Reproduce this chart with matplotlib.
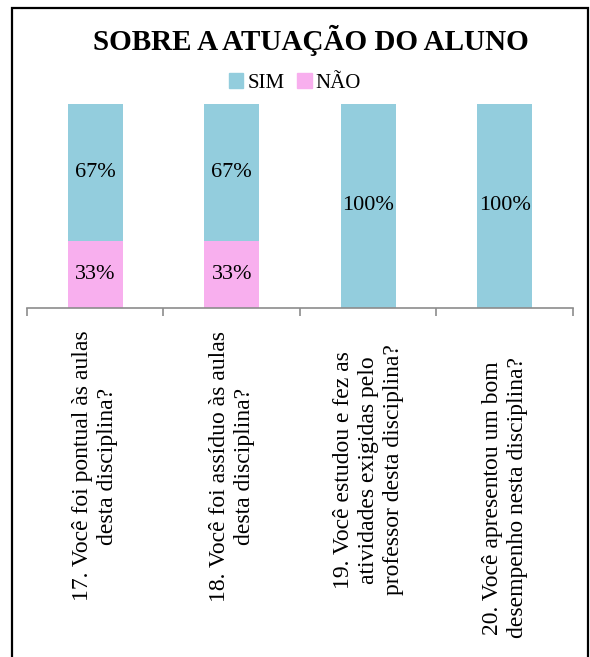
import matplotlib
matplotlib.use("Agg")
import matplotlib.pyplot as plt
from matplotlib.patches import Rectangle, Patch
from matplotlib.transforms import blended_transform_factory

plt.rcParams['font.family'] = ['Liberation Serif', 'DejaVu Serif']

title = "SOBRE A ATUAÇÃO DO ALUNO"
categories = [
    "17. Você foi pontual às aulas\ndesta disciplina?",
    "18. Você foi assíduo às aulas\ndesta disciplina?",
    "19. Você estudou e fez as\natividades exigidas pelo\nprofessor desta disciplina?",
    "20. Você apresentou um bom\ndesempenho nesta disciplina?",
]
series_names = ["SIM", "NÃO"]
sim = [67, 67, 100, 100]
nao = [33, 33, 0, 0]

c_sim = "#93CDDD"
c_nao = "#F8AFEE"

W, H = 590, 657
fig = plt.figure(figsize=(W / 100, H / 100), dpi=100)

# outer frame (left, top, right edges; bottom cut off)
fig.patches.append(Rectangle((12 / W, -0.05), (588 - 12) / W, 1 - 8 / H + 0.05,
                             transform=fig.transFigure, fill=False,
                             edgecolor="black", linewidth=1.6))

ax = fig.add_axes([27 / W, 1 - 308 / H, (573 - 27) / W, (308 - 104) / H])
x = list(range(len(categories)))
ax.bar(x, nao, width=0.4, color=c_nao, zorder=2)
ax.bar(x, sim, width=0.4, bottom=nao, color=c_sim, zorder=2)

for i in x:
    if nao[i] > 0:
        ax.text(i, nao[i] / 2, f"{nao[i]}%", ha="center", va="center", fontsize=16)
    if sim[i] > 0:
        ax.text(i, nao[i] + sim[i] / 2, f"{sim[i]}%", ha="center", va="center", fontsize=16)

ax.set_xlim(-0.5, len(categories) - 0.5)
ax.set_ylim(0, 100)
ax.set_yticks([])
for s in ["top", "right", "left"]:
    ax.spines[s].set_visible(False)
ax.spines["bottom"].set_color("#8C8C8C")
ax.spines["bottom"].set_linewidth(1.2)
ax.set_xticks([i - 0.5 for i in range(len(categories) + 1)])
ax.set_xticklabels([])
ax.tick_params(axis="x", length=6, width=1.2, color="#8C8C8C")

tr = blended_transform_factory(ax.transData, fig.transFigure)
label_centers = [466, 466, 470, 498]
for i, lab in enumerate(categories):
    ax.text(i, 1 - label_centers[i] / H, lab, transform=tr, rotation=90,
            ha="center", va="center", multialignment="center",
            fontsize=17, linespacing=1.25)

fig.text(311 / W, 1 - 40 / H, title, ha="center", va="center",
         fontsize=21, fontweight="bold")

handles = [Patch(color=c_sim), Patch(color=c_nao)]
fig.legend(handles, series_names, loc="center", bbox_to_anchor=(0.5, 1 - 83 / H),
           ncol=2, frameon=False, fontsize=15, handlelength=0.7, handleheight=0.7,
           handletextpad=0.2, columnspacing=0.6)

fig.savefig("out.png", dpi=100)
